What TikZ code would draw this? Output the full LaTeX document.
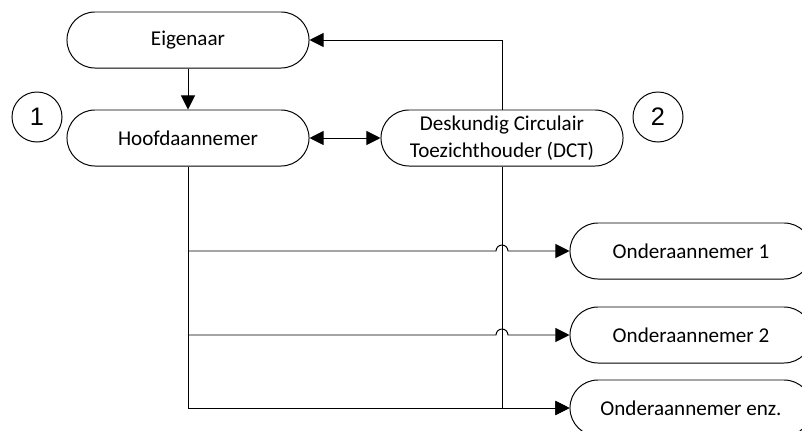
\documentclass[tikz,border=0pt]{standalone}
\usepackage{fontspec}
\setmainfont{Carlito}
\newfontfamily\numfont{Liberation Sans}
\usetikzlibrary{arrows.meta, calc, positioning}

\tikzset{
    party/.style = {draw, rounded corners=0.7cm, minimum width=6.05cm, minimum height=1.4cm,
                    align=center, font=\fontsize{15}{19}\selectfont, line width=0.7pt},
    marker/.style = {draw, circle, minimum size=1.25cm, inner sep=0pt,
                     font=\numfont\fontsize{18}{18}\selectfont, line width=0.7pt},
    arr/.style = {-{Triangle[length=10pt, width=10pt]}, line width=0.7pt},
    arrboth/.style = {{Triangle[length=10pt, width=10pt]}-{Triangle[length=10pt, width=10pt]}, line width=0.7pt}
}

\begin{document}
\begin{tikzpicture}[x=0.025cm, y=0.025cm, node distance = 2cm]
                    \useasboundingbox (0,0) rectangle (802,430);

                    \node (eig) [party] at (188,390) {Eigenaar};
                    \node (hoofd) [party] at (188,292) {Hoofdaannemer};
                    \node (dct) [party] at (502,292) {Deskundig Circulair\\Toezichthouder (DCT)};
                    \node (on1) [party] at (691,179) {Onderaannemer 1};
                    \node (on2) [party] at (691,95) {Onderaannemer 2};
                    \node (onz) [party] at (691,22) {Onderaannemer enz.};

                    \node (one) [marker] at (37,313) {1};
                    \node (two) [marker] at (658,313) {2};

                    \path [arr]
                        (eig) edge (hoofd);
                    \path [arrboth]
                        (hoofd) edge (dct);

                    % toezicht lijnen
                    \draw [arr] (dct) |- (eig);
                    \draw [arr] (dct) |- (onz);

                    % hoofdaannemer naar onderaannemers, met sprongetjes
                    \draw [arr] (hoofd) |- (onz);
                    \draw [arr] (hoofd.south |- on1) -- ($(dct.south |- on1)+(-6,0)$)
                        arc [start angle=180, end angle=0, radius=4.25pt] -- (on1);
                    \draw [arr] (hoofd.south |- on2) -- ($(dct.south |- on2)+(-6,0)$)
                        arc [start angle=180, end angle=0, radius=4.25pt] -- (on2);
                \end{tikzpicture}
\end{document}
